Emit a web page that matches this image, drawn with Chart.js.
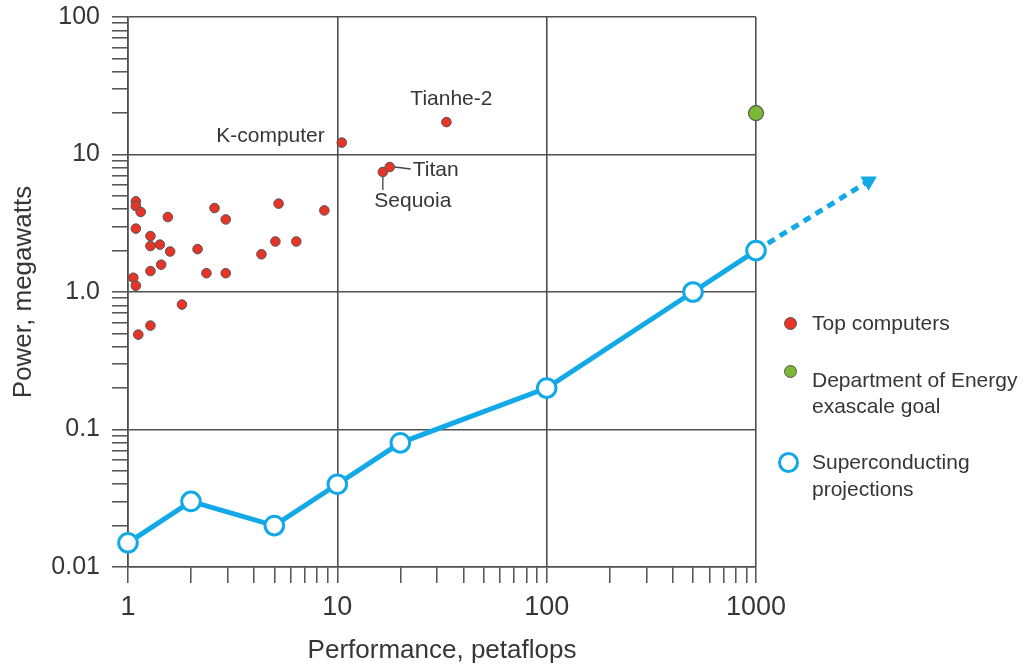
<!DOCTYPE html>
<html>
<head>
<meta charset="utf-8">
<script src="https://cdn.jsdelivr.net/npm/chart.js@4.4.1/dist/chart.umd.min.js"></script>
<style>
  html, body { margin: 0; padding: 0; background: #fff; }
  #wrap { position: relative; width: 1035px; height: 667px; overflow: hidden; }
  #wrap canvas { position: absolute; left: 0; top: 0; }
  .legend { position: absolute; left: 0; top: 0; font-family: 'Liberation Sans', Arial, sans-serif; color: #363636; font-size: 21px; }
  .lg-line { position: absolute; left: 812px; height: 26px; line-height: 26px; white-space: nowrap; }
  .lg-dot { position: absolute; border-radius: 50%; box-sizing: border-box; }
</style>
</head>
<body>
<div id="wrap">
  <canvas id="chart"></canvas>
  <div class="legend">
    <div class="lg-dot" style="left:783.5px; top:316.5px; width:13px; height:13px; background:#e63427; border:1px solid #555;"></div>
    <div class="lg-line" style="top:310px;">Top computers</div>
    <div class="lg-dot" style="left:783.5px; top:365px; width:13px; height:13px; background:#7bb833; border:1px solid #555;"></div>
    <div class="lg-line" style="top:367px;">Department of Energy</div>
    <div class="lg-line" style="top:393px;">exascale goal</div>
    <div class="lg-dot" style="left:778px; top:452px; width:21px; height:21px; background:#fff; border:3px solid #12a9e6;"></div>
    <div class="lg-line" style="top:449px;">Superconducting</div>
    <div class="lg-line" style="top:476px;">projections</div>
  </div>
</div>
<script>
/* ── Data ── */
// Top computers (performance in petaflops, power in megawatts)
var TOP_X = [1.09, 1.09, 1.15, 1.55, 1.09, 1.28, 1.28, 1.42, 1.59, 2.15,
             1.28, 1.44, 1.06, 1.09, 2.37, 2.93, 2.59, 2.93, 5.24, 5.06,
             6.37, 4.34, 8.67, 1.81, 1.28, 1.12, 10.5, 16.5, 17.8, 33.2];
var TOP_Y = [4.56, 4.22, 3.82, 3.51, 2.89, 2.55, 2.16, 2.21, 1.97, 2.05,
             1.42, 1.58, 1.27, 1.11, 1.37, 1.37, 4.08, 3.37, 4.39, 2.33,
             2.33, 1.88, 3.92, 0.81, 0.57, 0.49, 12.2, 7.46, 8.11, 17.2];
// named machines: index into TOP_X / TOP_Y
var NAMED_TEXT  = ['K-computer', 'Sequoia', 'Titan', 'Tianhe-2'];
var NAMED_INDEX = [26, 27, 28, 29];

// Department of Energy exascale goal
var GOAL_X = [1000];
var GOAL_Y = [20];

// Superconducting projections
var SC_X = [1, 2, 5, 10, 20, 100, 500, 1000];
var SC_Y = [0.015, 0.03, 0.02, 0.04, 0.08, 0.2, 1.0, 2.0];

// dashed extension beyond the axis
var EXT_X = [1000, 3450];
var EXT_Y = [2.0, 6.4];

// axis ticks
var X_MAJOR  = [1, 10, 100, 1000];
var X_LABELS = ['1', '10', '100', '1000'];
var Y_MAJOR  = [0.01, 0.1, 1, 10, 100];
var Y_LABELS = ['0.01', '0.1', '1.0', '10', '100'];
var MINOR_STEPS = [2, 3, 4, 5, 6, 7, 8, 9];

/* ── helpers ── */
function pts(xs, ys) {
    return xs.map(function (x, i) { return { x: x, y: ys[i] }; });
}
function logTicks(majors) {
    var out = [];
    majors.forEach(function (m, i) {
        out.push({ value: m, major: true });
        if (i < majors.length - 1) {
            MINOR_STEPS.forEach(function (s) { out.push({ value: m * s, major: false }); });
        }
    });
    return out;
}
function labelFor(majors, labels, v) {
    for (var i = 0; i < majors.length; i++) {
        if (Math.abs(Math.log10(v) - Math.log10(majors[i])) < 1e-6) return labels[i];
    }
    return '';
}

var BLUE = '#12a9e6';
var GRID = '#505050';
var TEXT = '#363636';
var FONT = "'Liberation Sans', Arial, sans-serif";

Chart.defaults.font.family = FONT;
Chart.defaults.color = TEXT;

// labels + leader lines for named machines, arrow head outside the plot area
var annotate = {
    id: 'annotate',
    afterDatasetsDraw: function (chart) {
        var ctx = chart.ctx;

        // the arrow head sits outside chartArea, so draw that point without the area check
        var ext = chart.getDatasetMeta(3);
        var tip = ext.data[ext.data.length - 1];
        if (tip) tip.draw(ctx);

        var meta = chart.getDatasetMeta(0);
        var styles = {
            'K-computer': { dx: -17, dy: -6, align: 'right' },
            'Tianhe-2':   { dx: 5,   dy: -23, align: 'center' },
            'Titan':      { dx: 23,  dy: 3,  align: 'left', lead: [5, 0, 21, 2] },
            'Sequoia':    { dx: 30,  dy: 29, align: 'center', lead: [0, 5, 0, 18] }
        };
        ctx.save();
        ctx.font = '21px ' + FONT;
        ctx.fillStyle = TEXT;
        ctx.strokeStyle = '#444';
        ctx.lineWidth = 1.3;
        ctx.textBaseline = 'middle';
        NAMED_TEXT.forEach(function (name, i) {
            var el = meta.data[NAMED_INDEX[i]];
            if (!el) return;
            var s = styles[name];
            if (s.lead) {
                ctx.beginPath();
                ctx.moveTo(el.x + s.lead[0], el.y + s.lead[1]);
                ctx.lineTo(el.x + s.lead[2], el.y + s.lead[3]);
                ctx.stroke();
            }
            ctx.textAlign = s.align;
            ctx.fillText(name, el.x + s.dx, el.y + s.dy);
        });
        ctx.restore();
    }
};

new Chart(document.getElementById('chart'), {
    type: 'scatter',
    data: {
        datasets: [
            {
                label: 'Top computers',
                data: pts(TOP_X, TOP_Y),
                backgroundColor: '#e63427',
                borderColor: '#555',
                borderWidth: 1,
                pointRadius: 4.8,
                clip: false
            },
            {
                label: 'Department of Energy exascale goal',
                data: pts(GOAL_X, GOAL_Y),
                backgroundColor: '#7bb833',
                borderColor: '#555',
                borderWidth: 1.2,
                pointRadius: 7.5,
                clip: false
            },
            {
                label: 'Superconducting projections',
                data: pts(SC_X, SC_Y),
                showLine: true,
                borderColor: BLUE,
                borderWidth: 5,
                backgroundColor: '#fff',
                pointBackgroundColor: '#fff',
                pointBorderColor: BLUE,
                pointBorderWidth: 3,
                pointRadius: 9.3,
                tension: 0,
                clip: false
            },
            {
                label: 'extension',
                data: pts(EXT_X, EXT_Y),
                showLine: true,
                borderColor: BLUE,
                borderWidth: 5,
                borderDash: [8, 6],
                pointStyle: 'triangle',
                pointRadius: [0, 9.5],
                pointRotation: 60,
                pointBackgroundColor: BLUE,
                pointBorderColor: BLUE,
                pointBorderWidth: 0,
                clip: false
            }
        ]
    },
    options: {
        responsive: true,
        maintainAspectRatio: false,
        animation: false,
        events: [],
        layout: { padding: { top: 17, right: 279, bottom: 0, left: 0 } },
        plugins: { legend: { display: false }, tooltip: { enabled: false } },
        scales: {
            x: {
                type: 'logarithmic',
                min: 1,
                max: 1000,
                afterBuildTicks: function (s) { s.ticks = logTicks(X_MAJOR); },
                afterFit: function (s) { s.height = 100; },
                border: { display: true, color: GRID, width: 1.6 },
                grid: {
                    color: function (c) { return c.tick && c.tick.major ? GRID : 'rgba(0,0,0,0)'; },
                    lineWidth: 1.6,
                    drawTicks: true,
                    tickLength: 16,
                    tickColor: GRID,
                    tickWidth: 1.5
                },
                ticks: {
                    autoSkip: false,
                    maxRotation: 0,
                    padding: 8,
                    color: TEXT,
                    font: { size: 27 },
                    callback: function (v) { return labelFor(X_MAJOR, X_LABELS, v); }
                },
                title: {
                    display: true,
                    text: 'Performance, petaflops',
                    color: TEXT,
                    font: { size: 26, lineHeight: 1 },
                    padding: { top: 0, bottom: 3 }
                }
            },
            y: {
                type: 'logarithmic',
                min: 0.01,
                max: 100,
                afterBuildTicks: function (s) { s.ticks = logTicks(Y_MAJOR); },
                afterFit: function (s) { s.width = 128; },
                border: { display: true, color: GRID, width: 1.6 },
                grid: {
                    color: function (c) { return c.tick && c.tick.major ? GRID : 'rgba(0,0,0,0)'; },
                    lineWidth: 1.6,
                    drawTicks: true,
                    tickLength: 16,
                    tickColor: GRID,
                    tickWidth: 1.5
                },
                ticks: {
                    autoSkip: false,
                    padding: 12,
                    color: TEXT,
                    font: { size: 25, lineHeight: 0.4 },
                    callback: function (v) { return labelFor(Y_MAJOR, Y_LABELS, v); }
                },
                title: {
                    display: true,
                    text: 'Power, megawatts',
                    color: TEXT,
                    font: { size: 26, lineHeight: 1 },
                    padding: { top: 11, bottom: 0 }
                }
            }
        }
    },
    plugins: [annotate]
});
</script>
</body>
</html>
